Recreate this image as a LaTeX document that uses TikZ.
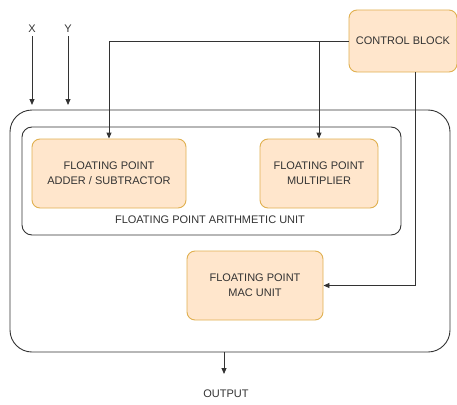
\documentclass[tikz,border=0pt]{standalone}
\usepackage{fontspec}
\setmainfont{Liberation Sans}
\usetikzlibrary{arrows.meta}
\definecolor{unitfill}{HTML}{FFE6CC}
\definecolor{unitline}{HTML}{E0B050}
\definecolor{wire}{HTML}{333333}
\begin{document}
\begin{tikzpicture}[x=1pt,y=-1pt,
  every node/.style={font=\fontsize{11}{15}\selectfont, text=wire, align=center},
  unit/.style={draw=unitline, fill=unitfill, rounded corners=8pt, line width=0.9pt},
  frame/.style={draw=wire, line width=0.9pt},
  wireline/.style={draw=wire, line width=0.9pt},
  flow/.style={wireline, -{Triangle[length=6pt,width=5pt]}}]
\useasboundingbox (0,0) rectangle (457,404);

% enclosing frame and arithmetic group
\draw[frame, rounded corners=22pt] (10,110) rectangle (450,352);
\draw[frame, rounded corners=10pt] (22,127) rectangle (401,235);
\node (fpau) at (210,220) {FLOATING POINT ARITHMETIC UNIT};

% functional units
\node[unit, minimum width=154pt, minimum height=69pt] (add) at (109,173.5) {FLOATING POINT\\ADDER / SUBTRACTOR};
\node[unit, minimum width=118pt, minimum height=69pt] (mul) at (319,173.5) {FLOATING POINT\\MULTIPLIER};
\node[unit, minimum width=136pt, minimum height=69pt] (mac) at (255,285.5) {FLOATING POINT\\MAC UNIT};
\node[unit, minimum width=108pt, minimum height=62pt] (ctrl) at (403,41) {CONTROL BLOCK};

% inputs and output
\node (x) at (32,29) {X};
\node (y) at (68,29) {Y};
\node (out) at (226,394) {OUTPUT};
\coordinate (xin) at (32,105);
\coordinate (yin) at (68,105);
\coordinate (oend) at (224,374);
\draw[flow] (x.south) -- (xin);
\draw[flow] (y.south) -- (yin);
\draw[flow] (224,352) -- (oend);

% control lines
\draw[flow] (ctrl.west) -| (add.north);
\draw[flow] (ctrl.west -| mul.north) -- (mul.north);
\draw[flow] (ctrl.south -| 415,0) |- (mac.east);
\end{tikzpicture}
\end{document}
